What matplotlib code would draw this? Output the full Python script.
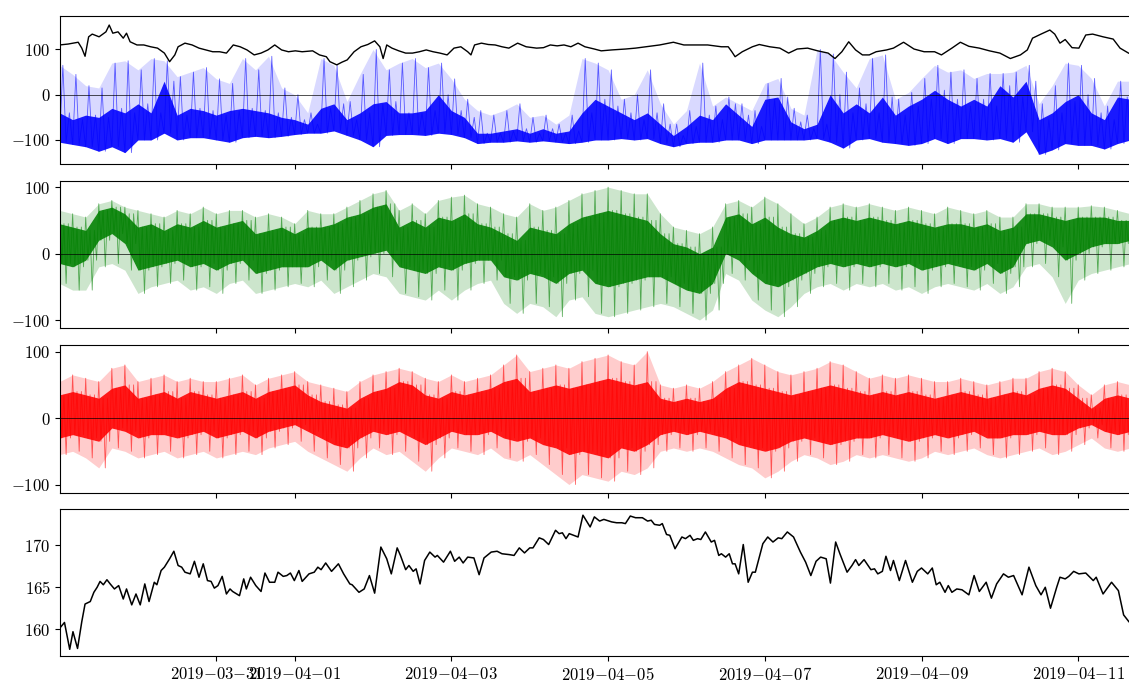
import numpy as np
import pandas as pd
import matplotlib
matplotlib.use("Agg")
import matplotlib.pyplot as plt
import matplotlib.dates as mdates
from matplotlib.ticker import FuncFormatter

plt.rcParams["font.family"] = "serif"
plt.rcParams["font.serif"] = ["cmr10"]
plt.rcParams["mathtext.fontset"] = "cm"
plt.rcParams["axes.formatter.use_mathtext"] = True
plt.rcParams["font.size"] = 12

start = pd.Timestamp("2019-03-29 00:00")

# ---- panel 4: smooth series (hours since start, value) ----
temp_hours = [0, 1.5, 3.1, 4.1, 5.5, 6.8, 7.8, 9.4, 10.5, 11.5,
              12.4, 13.4, 14.5, 15.5, 16.8, 18.1, 19.5, 20.5, 22.1, 23.4,
              24.7, 26.1, 27.4, 29.0, 29.8, 31.1, 32.1, 33.7, 35.0, 36.3,
              37.4, 38.4, 40.0, 41.3, 42.7, 44.0, 45.3, 46.4, 47.4, 48.5,
              49.8, 51.1, 52.2, 53.0, 55.1, 56.4, 57.2, 58.5, 60.1, 61.7,
              62.9, 64.3, 65.9, 66.9, 68.5, 69.6, 70.7, 71.9, 73.3, 74.3,
              76.4, 78.0, 79.1, 80.1, 81.5, 83.3, 85.4, 87.0, 88.9, 89.6,
              91.7, 93.3, 94.9, 96.5, 98.4, 100.2, 101.6, 103.4, 104.4, 106.0,
              107.0, 108.3, 109.2, 110.4, 111.8, 113.4, 115.0, 115.7, 117.6, 119.7,
              121.0, 122.4, 123.6, 125.0, 126.9, 128.5, 130.0, 132.2, 134.0, 135.5,
              137.7, 139.2, 140.8, 142.4, 144.0, 145.0, 146.9, 148.2, 149.8, 151.9,
              153.0, 154.0, 155.1, 156.1, 158.8, 160.3, 162.5, 163.8, 165.4, 166.7,
              169.1, 170.6, 172.2, 173.3, 174.8, 176.4, 178.5, 180.1, 181.2, 182.2,
              183.8, 184.6, 185.9, 186.9, 188.5, 190.6, 191.7, 193.1, 194.1, 195.4,
              196.4, 197.8, 199.6, 200.6, 201.9, 202.7, 204.0, 205.1, 206.1, 206.9,
              208.0, 209.4, 210.9, 212.2, 213.1, 215.4, 216.9, 218.5, 220.1, 221.2,
              222.9, 224.8, 226.9, 228.5, 230.1, 231.7, 233.1, 234.8, 236.1, 237.7,
              239.0, 241.2, 242.7, 243.8, 244.8, 246.4, 248.5, 249.6, 250.6, 252.0,
              253.1, 254.5, 255.4, 257.2, 259.1, 261.2, 262.7, 264.0, 265.9, 267.3,
              268.5, 269.6, 271.2, 272.2, 273.3, 274.8, 276.4, 278.5, 280.1, 281.7,
              283.8, 285.4, 287.0, 289.1, 290.6, 292.2, 294.8, 296.9, 299.0, 300.6,
              301.9, 303.5, 305.4, 306.4, 308.0, 309.1, 310.6, 312.2, 314.3, 316.6,
              317.5, 319.6, 322.2, 324.3, 325.9, 327.5]
temp_vals = [160.1, 160.8, 157.6, 159.7, 157.7, 160.9, 163.0, 163.3, 164.4, 165.0,
             165.7, 165.3, 165.9, 165.4, 164.8, 165.2, 163.6, 164.8, 162.9, 164.2,
             162.9, 165.4, 163.3, 165.6, 165.3, 167.0, 167.4, 168.4, 169.3, 167.6,
             167.4, 166.8, 166.6, 168.1, 166.2, 167.8, 165.8, 165.7, 164.9, 165.2,
             166.3, 164.2, 164.8, 164.5, 164.0, 166.0, 164.8, 166.2, 165.2, 164.5,
             166.7, 165.6, 165.6, 166.8, 166.3, 166.4, 166.7, 165.8, 167.0, 165.7,
             166.6, 166.8, 167.4, 167.1, 167.9, 166.9, 167.8, 166.6, 165.4, 165.3,
             164.4, 164.8, 166.4, 164.3, 169.8, 168.4, 166.6, 169.7, 168.8, 167.1,
             167.6, 166.9, 167.2, 165.4, 168.2, 169.2, 168.6, 168.8, 168.0, 169.3,
             168.1, 168.6, 167.9, 168.6, 168.5, 166.5, 168.5, 169.2, 169.3, 169.0,
             168.9, 168.8, 169.7, 169.1, 169.7, 169.7, 170.9, 170.7, 170.1, 171.8,
             171.4, 171.5, 170.8, 171.4, 171.0, 173.6, 172.2, 173.4, 172.9, 173.1,
             172.8, 172.7, 172.7, 172.6, 173.5, 173.3, 173.3, 172.9, 173.0, 172.5,
             172.4, 172.6, 171.3, 171.2, 169.6, 171.0, 170.8, 171.2, 170.6, 170.8,
             170.7, 171.6, 170.4, 170.6, 168.8, 169.0, 168.6, 169.0, 167.8, 167.8,
             166.6, 170.1, 165.6, 166.8, 166.8, 170.2, 171.0, 170.4, 170.9, 170.8,
             171.6, 171.0, 169.2, 168.0, 166.4, 168.1, 168.6, 168.4, 165.5, 170.4,
             169.0, 166.8, 167.6, 168.3, 167.6, 168.3, 167.1, 167.2, 166.6, 166.9,
             168.7, 167.0, 168.2, 165.8, 168.2, 165.6, 166.9, 167.3, 166.6, 167.3,
             165.3, 165.6, 164.4, 165.2, 164.4, 164.8, 164.7, 164.1, 166.4, 164.5,
             165.6, 163.7, 165.4, 166.6, 166.2, 166.4, 164.1, 167.4, 165.2, 164.1,
             165.0, 162.5, 165.0, 166.2, 166.0, 166.3, 166.9, 166.6, 166.7, 165.8,
             166.2, 164.2, 165.6, 164.6, 161.7, 160.9]

# ---- panel 1: black line (hours since start, value) ----
top_hours = [0, 2.6, 5.7, 6.8, 7.8, 8.9, 10.0, 12.1, 14.2, 15.2,
             16.3, 17.9, 19.5, 20.5, 21.6, 23.7, 25.8, 27.9, 30.0, 32.1,
             33.7, 35.3, 36.3, 38.4, 40.6, 42.7, 44.8, 46.9, 49.0, 51.1,
             53.2, 55.3, 57.4, 59.6, 61.7, 63.8, 65.9, 68.0, 70.1, 72.2,
             74.3, 77.5, 79.6, 81.7, 82.8, 84.9, 86.5, 88.1, 90.2, 92.3,
             94.4, 96.5, 98.1, 99.1, 100.2, 101.8, 103.9, 106.0, 108.1, 110.2,
             112.3, 114.4, 116.5, 118.7, 120.8, 122.9, 125.0, 126.0, 127.1, 129.2,
             131.3, 133.4, 135.5, 137.6, 140.3, 142.9, 146.1, 148.2, 150.3, 152.4,
             154.5, 156.6, 158.8, 160.9, 163.8, 165.9, 169.1, 173.3, 176.4, 179.6,
             183.8, 188.0, 191.2, 194.3, 198.5, 202.7, 204.8, 205.9, 206.9, 209.1,
             212.2, 214.3, 217.5, 220.6, 223.3, 225.9, 229.1, 232.2, 235.4, 237.5,
             239.6, 241.7, 243.8, 245.9, 248.0, 250.1, 253.3, 255.4, 258.5, 261.7,
             264.8, 268.0, 270.1, 273.3, 275.9, 278.5, 281.7, 284.8, 288.0, 291.2,
             294.3, 296.4, 298.0, 300.6, 303.3, 304.8, 306.4, 308.0, 310.1, 312.2,
             314.3, 316.4, 319.6, 322.7, 324.8, 327.4]
top_vals = [110, 112, 116, 103, 85, 128, 134, 128, 139, 154,
            136, 139, 125, 136, 117, 110, 110, 106, 103, 92,
            73, 88, 106, 114, 110, 103, 99, 95, 95, 92,
            110, 106, 99, 88, 92, 99, 110, 99, 95, 97,
            95, 97, 88, 84, 73, 66, 72, 77, 95, 106,
            111, 119, 106, 80, 110, 103, 97, 92, 92, 95,
            99, 95, 92, 88, 103, 106, 95, 88, 110, 114,
            111, 110, 106, 103, 114, 106, 103, 104, 110, 108,
            110, 106, 114, 106, 101, 97, 99, 101, 103, 106,
            110, 116, 110, 110, 110, 106, 106, 95, 84, 95,
            106, 111, 106, 103, 92, 101, 103, 97, 92, 80,
            95, 117, 99, 88, 88, 95, 99, 103, 116, 101,
            95, 95, 88, 103, 116, 107, 103, 97, 92, 80,
            88, 99, 125, 134, 143, 134, 114, 122, 104, 103,
            132, 134, 128, 123, 103, 92]

# ---- noisy panels, 4-hour bins (hours since start) ----
bin_hours = list(range(0, 332, 4))

blue_lo = [-105, -110, -115, -125, -115, -128, -100, -100, -85, -100,
           -95, -95, -100, -105, -95, -92, -95, -92, -88, -85,
           -85, -80, -90, -100, -115, -90, -88, -88, -90, -85,
           -88, -95, -108, -105, -105, -102, -105, -102, -105, -108,
           -105, -100, -100, -97, -100, -97, -108, -115, -108, -105,
           -105, -100, -100, -108, -100, -100, -100, -100, -97, -105,
           -118, -100, -97, -105, -108, -112, -108, -97, -108, -97,
           -97, -100, -97, -105, -82, -132, -122, -108, -112, -112,
           -120, -108, -100]
blue_mid = [-40, -55, -45, -50, -30, -40, -20, -40, 30, -45,
            -30, -35, -45, -35, -30, -35, -40, -50, -55, -65,
            -30, -20, -55, -40, -20, -15, -40, -40, -35, 0,
            -35, -50, -85, -85, -80, -75, -85, -75, -85, -80,
            -40, -10, -25, -40, -55, -40, -65, -90, -70, -45,
            -55, -20, -45, -70, -10, -5, -60, -75, -65, 0,
            -40, -20, -40, -5, -45, -25, -10, 10, -10, -25,
            -10, -25, 20, -5, 30, -55, -40, -15, 0, -40,
            -55, -5, -10]
blue_hi = [65, 45, 20, 15, 70, 75, 55, 80, 75, 40,
           50, 60, 35, 25, 80, 55, 85, 15, 0, -40,
           80, 65, -15, 45, 100, 55, 70, 80, 60, 70,
           35, -10, -35, -45, -35, -20, -50, -45, -65, -45,
           80, 70, 55, -10, 0, 55, -20, -65, -35, 70,
           -25, -5, -20, -35, 25, 36, -30, -45, 100, 90,
           50, 15, 80, 88, -10, 5, 36, 65, 50, 55,
           36, 47, 47, 50, 65, -20, 20, 70, 65, 36,
           -25, 30, 30]

green_plo = [-45, -55, -55, -20, -15, -25, -60, -50, -45, -40,
             -55, -50, -60, -45, -40, -60, -55, -50, -45, -50,
             -40, -60, -50, -40, -30, -35, -60, -65, -70, -55,
             -70, -55, -45, -40, -75, -90, -75, -80, -95, -70,
             -65, -90, -95, -90, -85, -80, -75, -80, -90, -100,
             -85, -30, -40, -70, -85, -95, -80, -60, -50, -45,
             -55, -45, -50, -45, -55, -50, -60, -50, -45, -50,
             -55, -45, -60, -50, -20, -15, -35, -75, -40, -30,
             -25, -20, -15]
green_lo = [-15, -20, -10, 20, 30, 15, -25, -20, -15, -10,
            -20, -15, -25, -15, -10, -30, -25, -20, -20, -20,
            -10, -25, -10, -5, 0, 5, -20, -25, -30, -20,
            -25, -15, -10, -10, -35, -40, -30, -35, -45, -30,
            -25, -45, -50, -45, -40, -35, -35, -45, -55, -60,
            -45, 0, -10, -30, -45, -50, -40, -30, -20, -15,
            -20, -15, -20, -15, -20, -15, -25, -20, -15, -20,
            -25, -15, -30, -20, 15, 20, 10, -10, 0, 10,
            15, 15, 20]
green_hi = [45, 40, 35, 65, 70, 60, 40, 45, 35, 45,
            40, 50, 40, 45, 50, 30, 35, 40, 30, 40,
            40, 45, 55, 60, 70, 75, 40, 50, 40, 55,
            50, 60, 45, 40, 30, 20, 40, 35, 30, 45,
            55, 60, 65, 60, 55, 50, 30, 15, 10, 0,
            10, 55, 60, 45, 55, 40, 30, 25, 35, 50,
            55, 50, 55, 50, 45, 50, 45, 40, 45, 45,
            40, 45, 35, 40, 60, 60, 55, 50, 55, 55,
            55, 50, 50]
green_phi = [65, 60, 55, 75, 80, 70, 65, 60, 55, 65,
             60, 70, 60, 65, 65, 55, 60, 55, 45, 65,
             60, 60, 70, 80, 90, 95, 65, 75, 60, 80,
             85, 88, 75, 70, 60, 55, 75, 65, 70, 80,
             90, 95, 100, 95, 90, 90, 60, 40, 35, 30,
             40, 75, 80, 70, 85, 75, 60, 45, 55, 70,
             75, 70, 75, 70, 65, 70, 65, 60, 70, 65,
             60, 65, 55, 55, 75, 75, 70, 70, 70, 72,
             70, 65, 60]

red_plo = [-55, -50, -60, -75, -45, -50, -60, -55, -50, -60,
           -55, -50, -60, -55, -50, -55, -45, -40, -35, -50,
           -60, -70, -80, -60, -45, -55, -50, -65, -80, -60,
           -45, -50, -55, -45, -60, -65, -55, -70, -85, -100,
           -85, -90, -95, -80, -85, -75, -50, -45, -50, -45,
           -50, -60, -70, -75, -90, -80, -65, -55, -60, -70,
           -65, -55, -60, -55, -60, -65, -60, -50, -55, -50,
           -45, -55, -60, -55, -50, -45, -55, -50, -40, -30,
           -45, -50, -45]
red_lo = [-30, -25, -30, -35, -15, -20, -30, -25, -25, -30,
          -25, -20, -30, -25, -20, -30, -20, -15, -10, -20,
          -30, -40, -45, -30, -20, -25, -20, -30, -40, -30,
          -20, -25, -25, -20, -30, -35, -30, -40, -45, -55,
          -50, -55, -60, -45, -50, -40, -25, -20, -25, -20,
          -25, -30, -40, -45, -50, -45, -35, -30, -35, -40,
          -35, -30, -30, -25, -30, -35, -30, -25, -30, -25,
          -20, -30, -30, -25, -25, -20, -25, -25, -15, -10,
          -20, -25, -20]
red_hi = [35, 40, 35, 30, 45, 50, 30, 35, 40, 30,
          40, 35, 30, 35, 40, 30, 40, 45, 50, 35,
          25, 20, 15, 30, 40, 45, 55, 50, 35, 30,
          40, 35, 40, 45, 55, 60, 40, 45, 50, 45,
          50, 55, 60, 55, 50, 55, 30, 25, 30, 25,
          30, 45, 55, 50, 45, 40, 35, 40, 45, 50,
          45, 40, 35, 40, 35, 40, 35, 30, 35, 40,
          35, 30, 35, 40, 35, 45, 50, 45, 30, 15,
          30, 35, 30]
red_phi = [55, 65, 60, 55, 75, 80, 55, 60, 65, 55,
           60, 55, 55, 60, 65, 50, 60, 65, 70, 55,
           50, 45, 40, 55, 65, 70, 75, 70, 60, 55,
           65, 55, 60, 65, 80, 95, 70, 75, 80, 75,
           85, 90, 95, 85, 80, 100, 50, 45, 50, 45,
           55, 70, 80, 90, 80, 70, 65, 70, 75, 85,
           80, 70, 60, 65, 60, 65, 60, 55, 55, 60,
           55, 50, 55, 60, 60, 70, 75, 70, 50, 35,
           50, 55, 50]


def to_time(hours):
    return start + pd.to_timedelta(np.asarray(hours, dtype=float), unit="h")


def date_label(x, pos):
    d = mdates.num2date(x)
    return "$%d{-}%02d{-}%02d$" % (d.year, d.month, d.day)


def trace(levels):
    # walk through the read levels of each 4-hour bin in turn
    hrs, vals = [], []
    n = len(levels)
    for i, h in enumerate(bin_hours):
        for k in range(n):
            hrs.append(h + 4.0 * k / n)
            vals.append(levels[k][i])
    return to_time(hrs), vals


fig = plt.figure(figsize=(11.29, 6.89), dpi=100)
W, H = 1129.0, 689.0
left = 60.4 / W
width = (1156.6 - 60.4) / W
tops = [16, 180.5, 345, 508.5]
axh = 147.5
axes = [fig.add_axes([left, 1 - (t + axh) / H, width, axh / H]) for t in tops]

tb = to_time(bin_hours)


def noisy(ax, plo, lo, hi, phi, color):
    ax.fill_between(tb, plo, lo, color=color, alpha=0.2, lw=0)
    ax.fill_between(tb, hi, phi, color=color, alpha=0.2, lw=0)
    ax.fill_between(tb, lo, hi, color=color, alpha=0.9, lw=0)
    t, v = trace([phi, lo, hi, plo, hi, lo])
    ax.plot(t, v, color=color, lw=0.6, alpha=0.6)


# panel 1
ax = axes[0]
ax.fill_between(tb, blue_mid, blue_hi, color="blue", alpha=0.15, lw=0)
ax.fill_between(tb, blue_lo, blue_mid, color="blue", alpha=0.9, lw=0)
t, v = trace([blue_lo, blue_hi, blue_lo, blue_mid])
ax.plot(t, v, color="blue", lw=0.6, alpha=0.6)
ax.plot(to_time(top_hours), top_vals, color="black", lw=1.0)
ax.axhline(0, color="black", lw=0.6, alpha=0.8)
ax.set_ylim(-152, 174)
ax.set_yticks([-100, 0, 100])

# panel 2
ax = axes[1]
noisy(ax, green_plo, green_lo, green_hi, green_phi, "green")
ax.axhline(0, color="black", lw=0.6, alpha=0.8)
ax.set_ylim(-112, 110)
ax.set_yticks([-100, 0, 100])

# panel 3
ax = axes[2]
noisy(ax, red_plo, red_lo, red_hi, red_phi, "red")
ax.axhline(0, color="black", lw=0.6, alpha=0.8)
ax.set_ylim(-112, 110)
ax.set_yticks([-100, 0, 100])

# panel 4
ax = axes[3]
ax.plot(to_time(temp_hours), temp_vals, color="black", lw=1.1)
ax.set_ylim(156.8, 174.4)
ax.set_yticks([160, 165, 170])

locator = mdates.DayLocator(bymonthday=range(1, 32, 2))
for i, ax in enumerate(axes):
    ax.set_xlim(pd.Timestamp("2019-03-29 00:15"), pd.Timestamp("2019-04-12 00:00"))
    ax.xaxis.set_major_locator(locator)
    ax.xaxis.set_major_formatter(FuncFormatter(date_label))
    if i < 3:
        ax.tick_params(axis="x", labelbottom=False)

fig.savefig("out.png", dpi=100)
